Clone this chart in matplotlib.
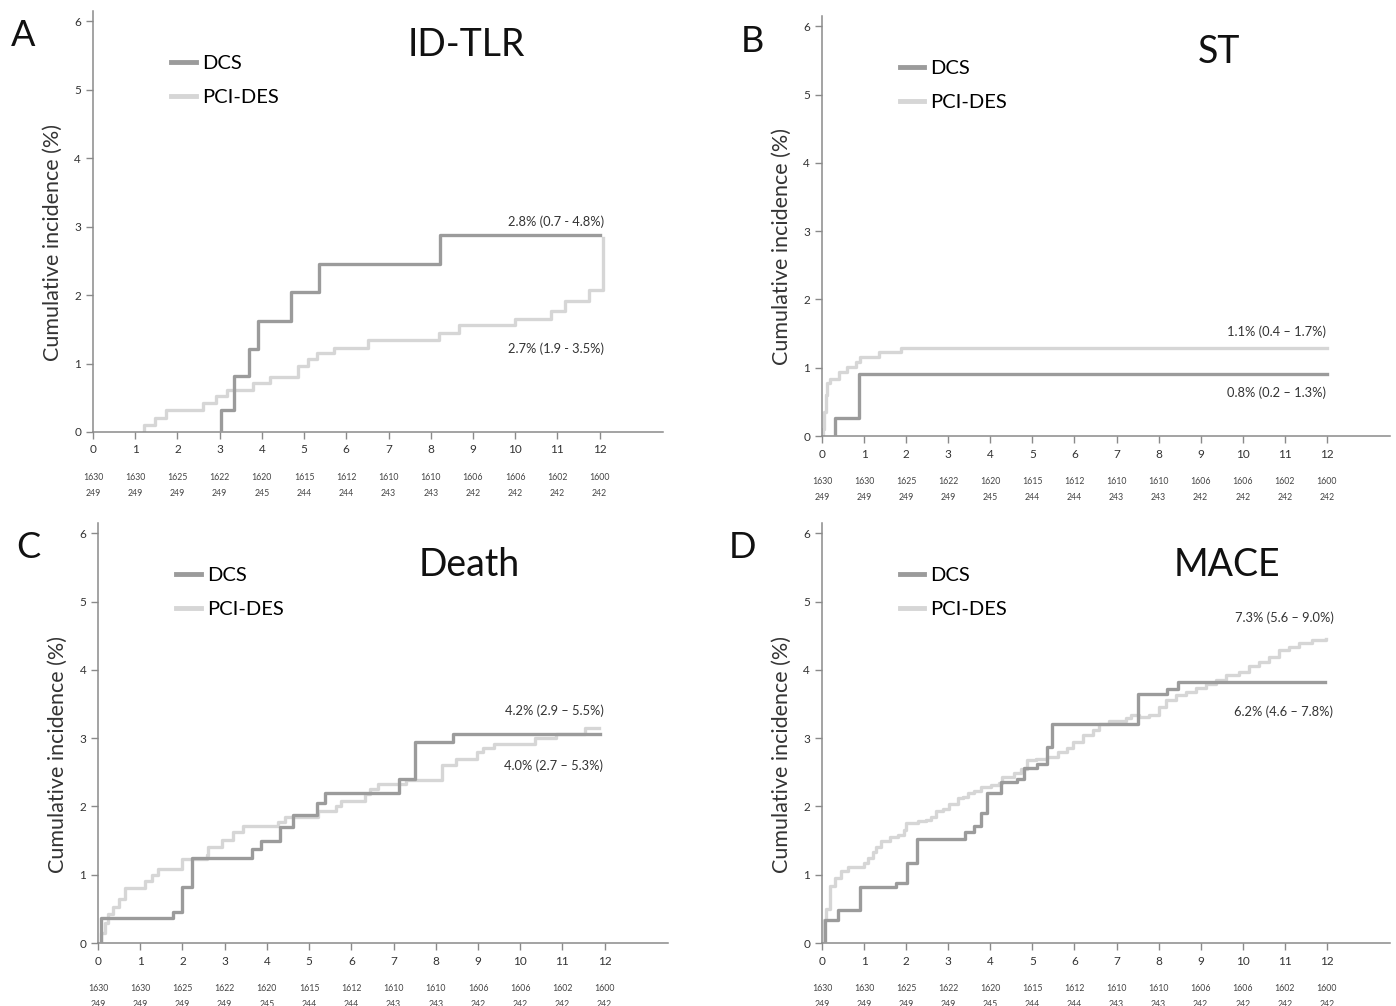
import matplotlib
matplotlib.use('Agg')
import matplotlib.pyplot as plt

plt.rcParams['font.family'] = ['Lato', 'DejaVu Sans']

DCS_COL = '#9b9b9b'
PCI_COL = '#d6d6d6'
AX_COL = '#8a8a8a'

months = list(range(13))
risk_top = [1630, 1630, 1625, 1622, 1620, 1615, 1612, 1610, 1610, 1606, 1606, 1602, 1600]
risk_bot = [249, 249, 249, 249, 245, 244, 244, 243, 243, 242, 242, 242, 242]

# A: ID-TLR  (first point = first event time at 0%)
tlr_dcs_t = [3.03, 3.03, 3.35, 3.69, 3.92, 4.69, 5.36, 8.23, 12.0]
tlr_dcs_y = [0, 0.32, 0.82, 1.21, 1.62, 2.05, 2.45, 2.88, 2.88]
tlr_pci_t = [1.2, 1.2, 1.48, 1.73, 2.6, 2.92, 3.18, 3.8, 4.2, 4.85, 5.1, 5.3, 5.71, 6.51,
             8.2, 8.67, 10.0, 10.84, 11.18, 11.76, 12.07]
tlr_pci_y = [0, 0.1, 0.21, 0.32, 0.42, 0.52, 0.62, 0.71, 0.81, 0.96, 1.06, 1.15, 1.23, 1.35,
             1.45, 1.56, 1.65, 1.77, 1.91, 2.08, 2.83]

# B: ST
st_dcs_t = [0.32, 0.32, 0.87, 12.0]
st_dcs_y = [0, 0.27, 0.91, 0.91]
st_pci_t = [0.03, 0.03, 0.06, 0.09, 0.13, 0.18, 0.41, 0.6, 0.81, 0.9, 1.35, 1.89, 12.0]
st_pci_y = [0, 0.1, 0.35, 0.6, 0.78, 0.84, 0.93, 1.01, 1.09, 1.15, 1.23, 1.29, 1.29]

# C: Death
death_dcs_t = [0.08, 0.08, 1.78, 2.0, 2.23, 3.65, 3.86, 4.31, 4.62, 5.18, 5.37, 7.12, 7.5, 8.4, 11.89]
death_dcs_y = [0, 0.37, 0.46, 0.82, 1.25, 1.37, 1.49, 1.7, 1.87, 2.05, 2.2, 2.4, 2.95, 3.06, 3.06]
death_pci_t = [0.07, 0.07, 0.17, 0.24, 0.36, 0.5, 0.64, 1.11, 1.27, 1.43, 1.98, 2.57, 2.61, 2.93,
               3.2, 3.44, 4.27, 4.43, 5.2, 5.64, 5.76, 6.32, 6.44, 6.62, 7.3, 8.14, 8.48,
               8.97, 9.11, 9.37, 10.35, 10.84, 11.53, 11.87]
death_pci_y = [0, 0.14, 0.3, 0.43, 0.53, 0.64, 0.8, 0.91, 1.0, 1.09, 1.23, 1.29, 1.41, 1.51,
               1.62, 1.71, 1.77, 1.84, 1.93, 2.0, 2.08, 2.18, 2.26, 2.33, 2.38, 2.6, 2.7,
               2.8, 2.86, 2.92, 3.0, 3.06, 3.15, 3.15]

# D: MACE
mace_dcs_t = [0.07, 0.07, 0.39, 0.9, 1.77, 2.01, 2.25, 3.39, 3.61, 3.77, 3.93, 4.26, 4.64, 4.81,
              5.12, 5.34, 5.46, 7.52, 8.19, 8.45, 11.95]
mace_dcs_y = [0, 0.34, 0.49, 0.82, 0.88, 1.17, 1.53, 1.63, 1.72, 1.9, 2.2, 2.36, 2.4, 2.57,
              2.62, 2.87, 3.21, 3.64, 3.72, 3.82, 3.82]
mace_pci_t = [0.05, 0.05, 0.1, 0.18, 0.3, 0.46, 0.62, 1.01, 1.09, 1.21, 1.29, 1.41, 1.61, 1.8,
              1.96, 2.0, 2.28, 2.47, 2.59, 2.71, 2.87, 3.03, 3.23, 3.34, 3.48, 3.62, 3.78,
              4.02, 4.21, 4.29, 4.57, 4.73, 4.88, 5.08, 5.36, 5.6, 5.83, 5.96, 6.2, 6.43,
              6.59, 6.83, 7.22, 7.34, 7.54, 7.78, 8.02, 8.17, 8.41, 8.65, 8.89, 9.12, 9.36,
              9.6, 9.91, 10.15, 10.39, 10.62, 10.86, 11.1, 11.34, 11.65, 11.97]
mace_pci_y = [0, 0.34, 0.5, 0.83, 0.95, 1.05, 1.12, 1.17, 1.24, 1.34, 1.41, 1.49, 1.55, 1.58,
              1.66, 1.76, 1.79, 1.8, 1.85, 1.94, 1.96, 2.04, 2.12, 2.14, 2.19, 2.23, 2.29,
              2.31, 2.34, 2.43, 2.49, 2.55, 2.68, 2.7, 2.73, 2.8, 2.86, 2.95, 3.05, 3.12,
              3.2, 3.25, 3.29, 3.34, 3.31, 3.34, 3.46, 3.56, 3.63, 3.68, 3.74, 3.8, 3.85,
              3.92, 3.97, 4.05, 4.12, 4.19, 4.29, 4.34, 4.4, 4.43, 4.45]

panels = [
    dict(letter='A', title='ID-TLR', rect=[0.0666, 0.5706, 0.4083, 0.4185],
         dcs=(tlr_dcs_t, tlr_dcs_y), pci=(tlr_pci_t, tlr_pci_y),
         ann=[('2.8% (0.7 - 4.8%)', 12.1, 3.07), ('2.7% (1.9 - 3.5%)', 12.1, 1.21)],
         title_xy=(8.85, 5.65), letter_xy=(23, 35)),
    dict(letter='B', title='ST', rect=[0.5888, 0.5666, 0.4069, 0.4175],
         dcs=(st_dcs_t, st_dcs_y), pci=(st_pci_t, st_pci_y),
         ann=[('1.1% (0.4 \u2013 1.7%)', 11.98, 1.52), ('0.8% (0.2 \u2013 1.3%)', 11.98, 0.64)],
         title_xy=(9.44, 5.62), letter_xy=(752, 42)),
    dict(letter='C', title='Death', rect=[0.0702, 0.0626, 0.4083, 0.4175],
         dcs=(death_dcs_t, death_dcs_y), pci=(death_pci_t, death_pci_y),
         ann=[('4.2% (2.9 \u2013 5.5%)', 11.98, 3.4), ('4.0% (2.7 \u2013 5.3%)', 11.96, 2.59)],
         title_xy=(8.8, 5.53), letter_xy=(28, 548)),
    dict(letter='D', title='MACE', rect=[0.5888, 0.0626, 0.4069, 0.4175],
         dcs=(mace_dcs_t, mace_dcs_y), pci=(mace_pci_t, mace_pci_y),
         ann=[('7.3% (5.6 \u2013 9.0%)', 12.17, 4.77), ('6.2% (4.6 \u2013 7.8%)', 12.15, 3.38)],
         title_xy=(9.63, 5.53), letter_xy=(743, 548)),
]

fig = plt.figure(figsize=(13.96, 10.06), dpi=100)

for p in panels:
    ax = fig.add_axes(p['rect'])
    ax.step(p['dcs'][0], p['dcs'][1], where='post', color=DCS_COL, lw=2.4, label='DCS', zorder=3)
    ax.step(p['pci'][0], p['pci'][1], where='post', color=PCI_COL, lw=2.4, label='PCI-DES', zorder=2)
    ax.set_xlim(0, 13.5)
    ax.set_ylim(0, 6.15)
    ax.set_xticks(months)
    ax.set_yticks(range(7))
    for s in ['top', 'right']:
        ax.spines[s].set_visible(False)
    for s in ['left', 'bottom']:
        ax.spines[s].set_color(AX_COL)
        ax.spines[s].set_linewidth(1.1)
    ax.tick_params(colors=AX_COL, labelcolor='#333333', labelsize=8.5, length=5, width=1)
    ax.tick_params(axis='x', pad=4)
    ax.set_ylabel('Cumulative incidence (%)', fontsize=15.5, color='#333333')
    ax.yaxis.set_label_coords(-0.053, 0.45)
    ax.text(p['title_xy'][0], p['title_xy'][1], p['title'], fontsize=27, ha='center', va='center',
            color='#111111')
    for txt, x, y in p['ann']:
        ax.text(x, y, txt, fontsize=9.3, ha='right', va='center', color='#333333')
    for m, a, b in zip(months, risk_top, risk_bot):
        ax.annotate(str(a), xy=(m, 0), xycoords=('data', 'axes fraction'), xytext=(0, -33),
                    textcoords='offset points', ha='center', va='center', fontsize=6.3, color='#444444')
        ax.annotate(str(b), xy=(m, 0), xycoords=('data', 'axes fraction'), xytext=(0, -44),
                    textcoords='offset points', ha='center', va='center', fontsize=6.3, color='#444444')
    leg = ax.legend(loc='upper left', bbox_to_anchor=(0.12, 0.92), frameon=False, fontsize=14.5,
                    handlelength=1.2, handletextpad=0.3, labelspacing=0.85, borderpad=0)
    for h in leg.get_lines():
        h.set_linewidth(3.5)
    fig.text(p['letter_xy'][0] / 1396, 1 - p['letter_xy'][1] / 1006, p['letter'], fontsize=26,
             ha='center', va='center', color='#111111')

fig.savefig('out.png', dpi=100)
